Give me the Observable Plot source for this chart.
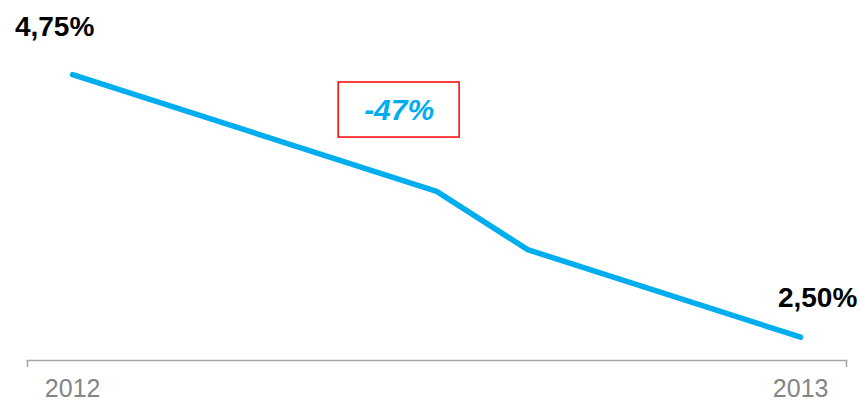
<!DOCTYPE html>
<html>
<head>
<meta charset="utf-8">
<script src="https://cdn.jsdelivr.net/npm/d3@7"></script>
<script src="https://cdn.jsdelivr.net/npm/@observablehq/plot@0.6"></script>
<style>
  html, body { margin: 0; padding: 0; background: #fff; }
  #chart svg { display: block; }
</style>
</head>
<body>
<div id="chart"></div>
<script>
// Data
const periods = [2012, 2012.5, 2012.625, 2013];
const rates = [4.75, 3.75, 3.25, 2.50];
const tickYears = [2012, 2013];
const endLabels = ["4,75%", "2,50%"];
const changeLabel = ["-47%"];
// annotation box extent (data units)
const boxX = [2012.3654, 2012.5316];
const boxY = [4.211, 4.683];
const labelPos = [2012.4485, 4.36];

const data = periods.map((p, i) => ({x: p, y: rates[i]}));
const first = [data[0]];
const last = [data[data.length - 1]];
const xDomain = [2011.938, 2013.063];

const font = "'Liberation Sans', Arial, Helvetica, sans-serif";
const blue = "#00aeef";

const chart = Plot.plot({
  width: 861,
  height: 402,
  marginTop: 45,
  marginBottom: 42,
  marginLeft: 27,
  marginRight: 15,
  style: {fontFamily: font, background: "#fff"},
  x: {domain: xDomain, label: null},
  y: {domain: [2.3, 5.0], axis: null},
  marks: [
    Plot.frame({anchor: "bottom", stroke: "#a6a6a6", strokeWidth: 1.5}),
    Plot.axisX({ticks: xDomain, tickSize: 7, tickFormat: () => "", label: null, stroke: "#a6a6a6", strokeWidth: 1.5}),
    Plot.axisX({ticks: tickYears, tickSize: 0, tickPadding: 19, tickFormat: d3.format("d"), label: null,
      fontSize: 25, fill: "#858585", fontFamily: font}),
    Plot.line(data, {x: "x", y: "y", stroke: blue, strokeWidth: 5.5, strokeLinejoin: "round", strokeLinecap: "round"}),
    Plot.text(first, {x: "x", y: "y", text: [endLabels[0]], dx: -18, dy: -39, lineAnchor: "bottom",
      fontSize: 28, fontWeight: "bold", fill: "#000", fontFamily: font}),
    Plot.text(last, {x: "x", y: "y", text: [endLabels[1]], dx: 17, dy: -30, lineAnchor: "bottom",
      fontSize: 28, fontWeight: "bold", fill: "#000", fontFamily: font}),
    Plot.rect([0], {x1: () => boxX[0], x2: () => boxX[1], y1: () => boxY[0], y2: () => boxY[1],
      fill: "none", stroke: "#ff0000", strokeWidth: 1.5}),
    Plot.text(changeLabel, {x: () => labelPos[0], y: () => labelPos[1], text: d => d,
      lineAnchor: "bottom", fontSize: 30, fontWeight: "bold", fontStyle: "italic", fill: blue, fontFamily: font})
  ]
});
document.getElementById("chart").appendChild(chart);
</script>
</body>
</html>
